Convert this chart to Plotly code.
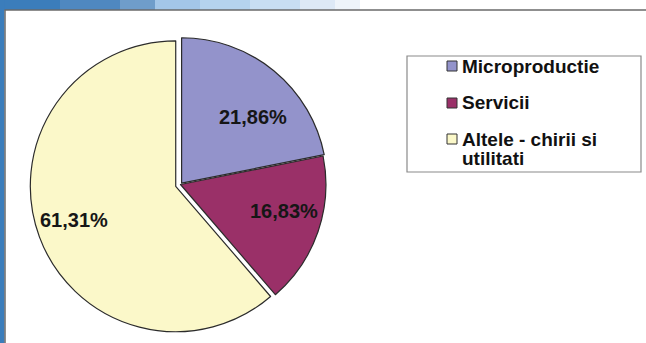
import plotly.graph_objects as go

# Shares of spending by category (percent)
categories = ["Microproductie", "Servicii", "Altele - chirii si<br>utilitati"]
shares = [21.86, 16.83, 61.31]
slice_colors = ["#9393cb", "#9a3068", "#fbf8c9"]
slice_pull = [0.012, 0.0, 0.035]

W, H = 646, 343
FONT = "Liberation Sans, Arial, sans-serif"


def px(x):
    return x / W


def py(y):
    return 1 - y / H


fig = go.Figure()

fig.add_trace(go.Pie(
    labels=categories,
    values=shares,
    sort=False,
    direction="clockwise",
    rotation=0,
    pull=slice_pull,
    marker=dict(colors=slice_colors, line=dict(color="#2b2b2b", width=1.2)),
    textinfo="none",
    hoverinfo="label+value",
    showlegend=False,
    domain=dict(x=[px(30), px(331)], y=[py(335), py(34)]),
))

# Percentage labels on the slices
label_pos = [(253, 117), (284, 211), (74, 220)]
annotations = []
for v, (lx, ly) in zip(shares, label_pos):
    annotations.append(dict(
        x=px(lx), y=py(ly), xref="paper", yref="paper",
        text="<b>" + f"{v:.2f}".replace(".", ",") + "%</b>",
        showarrow=False, xanchor="center", yanchor="middle",
        font=dict(family=FONT, size=20, color="#161616"),
    ))

# Slide background: blue band on top (fading to white) and on the left
shapes = []
band_stops = [
    (0, 60, "#3b7dbb"), (60, 120, "#4f88c0"), (120, 155, "#6f9dca"),
    (155, 200, "#a3c6e8"), (200, 250, "#b5d3ee"), (250, 300, "#c8def2"),
    (300, 335, "#dde9f6"), (335, 360, "#eef4fa"),
]
for x0, x1, c in band_stops:
    shapes.append(dict(type="rect", xref="paper", yref="paper",
                       x0=px(x0), x1=px(x1), y0=py(10), y1=1,
                       fillcolor=c, line=dict(width=0), layer="below"))
shapes.append(dict(type="rect", xref="paper", yref="paper",
                   x0=0, x1=px(4.5), y0=0, y1=1,
                   fillcolor="#3b7dbb", line=dict(width=0), layer="below"))
# Chart area frame
shapes.append(dict(type="line", xref="paper", yref="paper",
                   x0=px(4.5), x1=1, y0=py(10), y1=py(10),
                   line=dict(color="#6a6a6a", width=1.5)))
shapes.append(dict(type="line", xref="paper", yref="paper",
                   x0=px(5), x1=px(5), y0=0, y1=py(10),
                   line=dict(color="#6a6a6a", width=1.5)))

# Legend: framed box with a square swatch and bold label per category
shapes.append(dict(type="rect", xref="paper", yref="paper",
                   x0=px(407), x1=px(641), y0=py(172), y1=py(56),
                   fillcolor="white", line=dict(color="#8a8a8a", width=1.2)))
legend_rows = [66, 103, 139]
line_step = 19
for name, c, ry in zip(categories, slice_colors, legend_rows):
    shapes.append(dict(type="rect", xref="paper", yref="paper",
                       x0=px(447), x1=px(457), y0=py(ry + 5), y1=py(ry - 5),
                       fillcolor=c, line=dict(color="#333333", width=1)))
    for k, line in enumerate(name.split("<br>")):
        annotations.append(dict(
            x=px(460), y=py(ry + k * line_step), xref="paper", yref="paper",
            text="<b>" + line + "</b>", showarrow=False,
            xanchor="left", yanchor="middle", align="left",
            font=dict(family=FONT, size=19, color="#111111"),
        ))

fig.update_layout(
    width=W, height=H,
    margin=dict(l=0, r=0, t=0, b=0),
    paper_bgcolor="white",
    plot_bgcolor="white",
    shapes=shapes,
    annotations=annotations,
    showlegend=False,
)

fig.write_html("out.html")
